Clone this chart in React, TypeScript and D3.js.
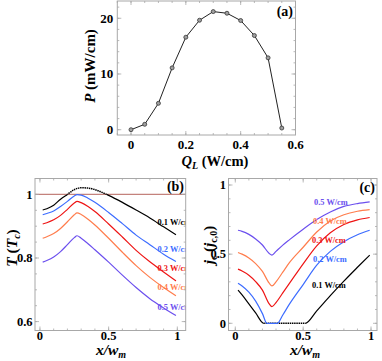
import { useRef, useEffect } from "react";
import * as d3 from "d3";

// (a) output power vs heat load
const qL = [0, 0.05, 0.1, 0.15, 0.2, 0.25, 0.3, 0.35, 0.4, 0.45, 0.5, 0.55];
const power = [0, 0.97, 4.74, 11.1, 16.6, 19.65, 21.2, 20.9, 19.6, 16.9, 12.9, 0.3];

// (b) temperature profiles T/Tc vs x/w_m
const xGrid = [0.02, 0.05, 0.1, 0.15, 0.2, 0.25, 0.27, 0.3, 0.35, 0.4, 0.5, 0.6, 0.7, 0.8, 0.9, 0.99];
const xT01 = [0.02, 0.05, 0.1, 0.15, 0.2, 0.25, 0.3, 0.35, 0.4, 0.485, 0.5, 0.6, 0.7, 0.8, 0.9, 0.99];
const t01 = [0.951, 0.955, 0.966, 0.985, 1.0, 1.015, 1.021, 1.02, 1.015, 1.0, 0.997, 0.975, 0.951, 0.926, 0.898, 0.873];
const t02 = [0.936, 0.94, 0.948, 0.962, 0.978, 0.995, 0.999, 0.998, 0.988, 0.975, 0.943, 0.908, 0.872, 0.842, 0.812, 0.789];
const t03 = [0.907, 0.911, 0.92, 0.934, 0.953, 0.973, 0.978, 0.974, 0.962, 0.946, 0.907, 0.866, 0.824, 0.788, 0.756, 0.728];
const t04 = [0.862, 0.867, 0.877, 0.893, 0.914, 0.936, 0.942, 0.937, 0.922, 0.904, 0.862, 0.818, 0.776, 0.739, 0.707, 0.681];
const t05 = [0.787, 0.792, 0.803, 0.82, 0.842, 0.864, 0.87, 0.862, 0.845, 0.826, 0.787, 0.746, 0.707, 0.672, 0.643, 0.619];

// (c) critical current density jc/jc0 vs x/w_m
const xJ01 = [0.02, 0.05, 0.1, 0.15, 0.21, 0.515, 0.6, 0.7, 0.8, 0.9, 0.99];
const j01 = [0.24, 0.205, 0.14, 0.075, 0, 0, 0.09, 0.2, 0.305, 0.405, 0.493];
const xJ02 = [0.02, 0.05, 0.1, 0.15, 0.2, 0.233, 0.31, 0.35, 0.4, 0.5, 0.6, 0.7, 0.8, 0.9, 0.99];
const j02 = [0.289, 0.27, 0.225, 0.16, 0.07, 0, 0, 0.06, 0.14, 0.28, 0.42, 0.52, 0.59, 0.64, 0.673];
const j03 = [0.392, 0.378, 0.348, 0.302, 0.24, 0.14, 0.12, 0.15, 0.22, 0.29, 0.43, 0.56, 0.655, 0.715, 0.748, 0.765];
const j04 = [0.512, 0.5, 0.472, 0.432, 0.375, 0.29, 0.27, 0.3, 0.37, 0.44, 0.55, 0.66, 0.74, 0.785, 0.81, 0.822];
const j05 = [0.673, 0.665, 0.643, 0.61, 0.566, 0.505, 0.493, 0.52, 0.565, 0.605, 0.68, 0.75, 0.805, 0.845, 0.866, 0.878];

const seriesLabels = ["0.1 W/cm", "0.2 W/cm", "0.3 W/cm", "0.4 W/cm", "0.5 W/cm"];

// tick labels
const aXTicks = [0, 0.2, 0.4, 0.6];
const aYTicks = [0, 10, 20];
const bXTicks = [0, 0.5, 1];
const bYTicks = [0.6, 0.8, 1];
const cYTicks = [0, 0.5, 1];

const colors = ["#000000", "#3c6cff", "#ee1515", "#ff7d4d", "#6c50ee"];
const FONT = "Liberation Serif, Times New Roman, serif";
const frameColor = "#a8a8a8";

const pairs = (xs: number[], ys: number[]) => xs.map((v, i) => [v, ys[i]] as [number, number]);

const App = () => {
  const svgRef = useRef<SVGSVGElement>(null);

  useEffect(() => {
    draw();
  }, []);

  const draw = () => {
    const svg = d3.select(svgRef.current).attr("width", 382).attr("height", 361)
      .attr("font-family", FONT);
    svg.selectAll("*").remove();
    svg.append("rect").attr("width", 382).attr("height", 361).attr("fill", "#fff");
    const defs = svg.append("defs");

    // frame + ticks on all four sides
    const frame = (x: any, y: any, xMaj: number[], xStep: number, yMaj: number[], yStep: number,
      fs: number, xLabY: number, yLabGap: number) => {
      const g = svg.append("g");
      const [x0, x1] = x.range();
      const [y0, y1] = y.range();
      const [dx0, dx1] = x.domain();
      const [dy0, dy1] = y.domain();
      g.append("rect").attr("x", x0).attr("y", y1).attr("width", x1 - x0).attr("height", y0 - y1)
        .attr("fill", "none").attr("stroke", frameColor).attr("stroke-width", 1);
      const xMin = d3.range(Math.ceil(dx0 / xStep) * xStep, dx1, xStep);
      const yMin = d3.range(Math.ceil(dy0 / yStep) * yStep, dy1, yStep);
      const tick = (x1_: number, y1_: number, x2_: number, y2_: number) =>
        g.append("line").attr("x1", x1_).attr("y1", y1_).attr("x2", x2_).attr("y2", y2_)
          .attr("stroke", frameColor).attr("stroke-width", 0.8);
      xMin.forEach(v => { const p = x(v); tick(p, y0, p, y0 - 2); tick(p, y1, p, y1 + 2); });
      yMin.forEach(v => { const p = y(v); tick(x0, p, x0 + 2, p); tick(x1, p, x1 - 2, p); });
      xMaj.forEach(v => { const p = x(v); tick(p, y0, p, y0 - 4); tick(p, y1, p, y1 + 4); });
      yMaj.forEach(v => { const p = y(v); tick(x0, p, x0 + 4, p); tick(x1, p, x1 - 4, p); });
      g.selectAll(".xl").data(xMaj).join("text")
        .attr("x", d => x(d)).attr("y", xLabY).attr("text-anchor", "middle")
        .attr("font-size", fs).attr("font-weight", "bold").text(d => String(d));
      g.selectAll(".yl").data(yMaj).join("text")
        .attr("x", x0 - yLabGap).attr("y", d => y(d) + fs * 0.34).attr("text-anchor", "end")
        .attr("font-size", fs).attr("font-weight", "bold").text(d => String(d));
    };

    const panelLabel = (txt: string, px: number, py: number) =>
      svg.append("text").attr("x", px).attr("y", py).attr("text-anchor", "end")
        .attr("font-size", 14).attr("font-weight", "bold").text(txt);

    // ---------- (a) ----------
    const xa = d3.scaleLinear().domain([-0.05, 0.6]).range([117.3, 295.5]);
    const ya = d3.scaleLinear().domain([-0.95, 23.1]).range([135, 1]);
    frame(xa, ya, aXTicks, 0.05, aYTicks, 2, 13, 148.5, 4);

    const lineA = d3.line<[number, number]>().x(d => xa(d[0])).y(d => ya(d[1]));
    const ptsA = pairs(qL, power);
    svg.append("path").attr("d", lineA(ptsA)).attr("fill", "none")
      .attr("stroke", "#222").attr("stroke-width", 1);
    svg.append("g").selectAll("circle").data(ptsA).join("circle")
      .attr("cx", d => xa(d[0])).attr("cy", d => ya(d[1])).attr("r", 2)
      .attr("fill", "#a0a0a0").attr("stroke", "#333").attr("stroke-width", 0.8);
    panelLabel("(a)", 293, 16);

    // axis titles (a)
    const tA = svg.append("text").attr("transform", "translate(95,66) rotate(-90)")
      .attr("text-anchor", "middle").attr("font-size", 15).attr("font-weight", "bold");
    tA.append("tspan").attr("font-style", "italic").text("P");
    tA.append("tspan").text(" (mW/cm)");
    const tQ = svg.append("text").attr("x", 215).attr("y", 166)
      .attr("text-anchor", "middle").attr("font-size", 14.5).attr("font-weight", "bold");
    tQ.append("tspan").attr("font-style", "italic").text("Q");
    tQ.append("tspan").attr("font-style", "italic").attr("font-size", 10).attr("dy", 3).text("L");
    tQ.append("tspan").attr("dy", -3).text(" (W/cm)");

    // ---------- (b) ----------
    const xb = d3.scaleLinear().domain([-0.036, 1.061]).range([35, 185.7]);
    const yb = d3.scaleLinear().domain([0.572, 1.05]).range([330.5, 178.5]);
    const lineB = d3.line<[number, number]>().x(d => xb(d[0])).y(d => yb(d[1])).curve(d3.curveMonotoneX);

    defs.append("clipPath").attr("id", "clipB").append("rect")
      .attr("x", 35).attr("y", 178.5).attr("width", 150.7).attr("height", 152);
    const cOut = defs.append("clipPath").attr("id", "clipBsolid");
    cOut.append("rect").attr("x", 0).attr("y", 0).attr("width", xb(0.2)).attr("height", 361);
    cOut.append("rect").attr("x", xb(0.485)).attr("y", 0).attr("width", 200).attr("height", 361);
    defs.append("clipPath").attr("id", "clipBdot").append("rect")
      .attr("x", xb(0.2)).attr("y", 0).attr("width", xb(0.485) - xb(0.2)).attr("height", 361);

    const gb = svg.append("g").attr("clip-path", "url(#clipB)");
    gb.append("line").attr("x1", 35).attr("x2", 185.7).attr("y1", yb(1)).attr("y2", yb(1))
      .attr("stroke", "#c4827c").attr("stroke-width", 1.2);
    [t05, t04, t03, t02].forEach((s, i) => {
      gb.append("path").attr("d", lineB(pairs(xGrid, s))).attr("fill", "none")
        .attr("stroke", colors[4 - i]).attr("stroke-width", 1.2);
    });
    const blackB = lineB(pairs(xT01, t01));
    gb.append("path").attr("d", blackB).attr("fill", "none").attr("stroke", "#000")
      .attr("stroke-width", 1.2).attr("clip-path", "url(#clipBsolid)");
    gb.append("path").attr("d", blackB).attr("fill", "none").attr("stroke", "#000")
      .attr("stroke-width", 1.5).attr("stroke-dasharray", "1.5,0.7").attr("clip-path", "url(#clipBdot)");

    const labYB = [225, 252, 271, 290, 310];
    gb.selectAll(".lab").data(seriesLabels).join("text")
      .attr("x", 157.5).attr("y", (d, i) => labYB[i]).attr("font-size", 8.4).attr("font-weight", "bold")
      .attr("fill", (d, i) => colors[i]).text(d => d);

    frame(xb, yb, bXTicks, 0.1, bYTicks, 0.05, 12.5, 339.5, 2.5);
    panelLabel("(b)", 184, 191);

    const tT = svg.append("text").attr("transform", "translate(17,248) rotate(-90)")
      .attr("text-anchor", "middle").attr("font-size", 15.5).attr("font-weight", "bold");
    tT.append("tspan").attr("font-style", "italic").text("T");
    tT.append("tspan").text(" (");
    tT.append("tspan").attr("font-style", "italic").text("T");
    tT.append("tspan").attr("font-style", "italic").attr("font-size", 10).attr("dy", 3).text("c");
    tT.append("tspan").attr("dy", -3).text(")");

    const xTitle = (cx: number) => {
      const t = svg.append("text").attr("x", cx).attr("y", 355)
        .attr("text-anchor", "middle").attr("font-size", 15.5).attr("font-weight", "bold").attr("font-style", "italic");
      t.append("tspan").text("x/w");
      t.append("tspan").attr("font-size", 10).attr("dy", 3).text("m");
    };
    xTitle(111);

    // ---------- (c) ----------
    const xc = d3.scaleLinear().domain([-0.05, 1.044]).range([228.5, 377]);
    const yc = d3.scaleLinear().domain([-0.052, 1.047]).range([330.5, 178.5]);
    const lineC = d3.line<[number, number]>().x(d => xc(d[0])).y(d => yc(d[1])).curve(d3.curveMonotoneX);

    defs.append("clipPath").attr("id", "clipC").append("rect")
      .attr("x", 228.5).attr("y", 178.5).attr("width", 148.5).attr("height", 152);
    const cOutC = defs.append("clipPath").attr("id", "clipCsolid");
    cOutC.append("rect").attr("x", 0).attr("y", 0).attr("width", xc(0.21)).attr("height", 361);
    cOutC.append("rect").attr("x", xc(0.515)).attr("y", 0).attr("width", 200).attr("height", 361);
    defs.append("clipPath").attr("id", "clipCdot").append("rect")
      .attr("x", xc(0.21)).attr("y", 0).attr("width", xc(0.515) - xc(0.21)).attr("height", 361);

    const gc = svg.append("g").attr("clip-path", "url(#clipC)");
    const blackC = lineC(pairs(xJ01, j01));
    gc.append("path").attr("d", blackC).attr("fill", "none").attr("stroke", "#000")
      .attr("stroke-width", 1.2).attr("clip-path", "url(#clipCsolid)");
    gc.append("path").attr("d", blackC).attr("fill", "none").attr("stroke", "#000")
      .attr("stroke-width", 1.5).attr("stroke-dasharray", "1.5,0.7").attr("clip-path", "url(#clipCdot)");
    gc.append("path").attr("d", lineC(pairs(xJ02, j02))).attr("fill", "none")
      .attr("stroke", colors[1]).attr("stroke-width", 1.2);
    [j03, j04, j05].forEach((s, i) => {
      gc.append("path").attr("d", lineC(pairs(xGrid, s))).attr("fill", "none")
        .attr("stroke", colors[i + 2]).attr("stroke-width", 1.2);
    });

    const labYC = [288, 262, 243, 223.5, 204.5];
    const labXC = [312, 313, 312, 313, 314];
    gc.selectAll(".lab").data(seriesLabels).join("text")
      .attr("x", (d, i) => labXC[i]).attr("y", (d, i) => labYC[i]).attr("font-size", 8.4).attr("font-weight", "bold")
      .attr("fill", (d, i) => colors[i]).text(d => d);

    frame(xc, yc, bXTicks, 0.1, cYTicks, 0.1, 12.5, 339.5, 2.5);
    panelLabel("(c)", 375, 192);

    const tJ = svg.append("text").attr("transform", "translate(214,245) rotate(-90)")
      .attr("text-anchor", "middle").attr("font-size", 15).attr("font-weight", "bold");
    tJ.append("tspan").attr("font-style", "italic").text("j");
    tJ.append("tspan").attr("font-size", 10).attr("dy", 3).text("c");
    tJ.append("tspan").attr("dy", -3).text(" (");
    tJ.append("tspan").attr("font-style", "italic").text("j");
    tJ.append("tspan").attr("font-size", 10).attr("dy", 3).text("c,0");
    tJ.append("tspan").attr("dy", -3).text(")");
    xTitle(305);
  };

  return <svg ref={svgRef} style={{ position: "absolute", left: 0, top: 0 }}></svg>;
};

export default App;
